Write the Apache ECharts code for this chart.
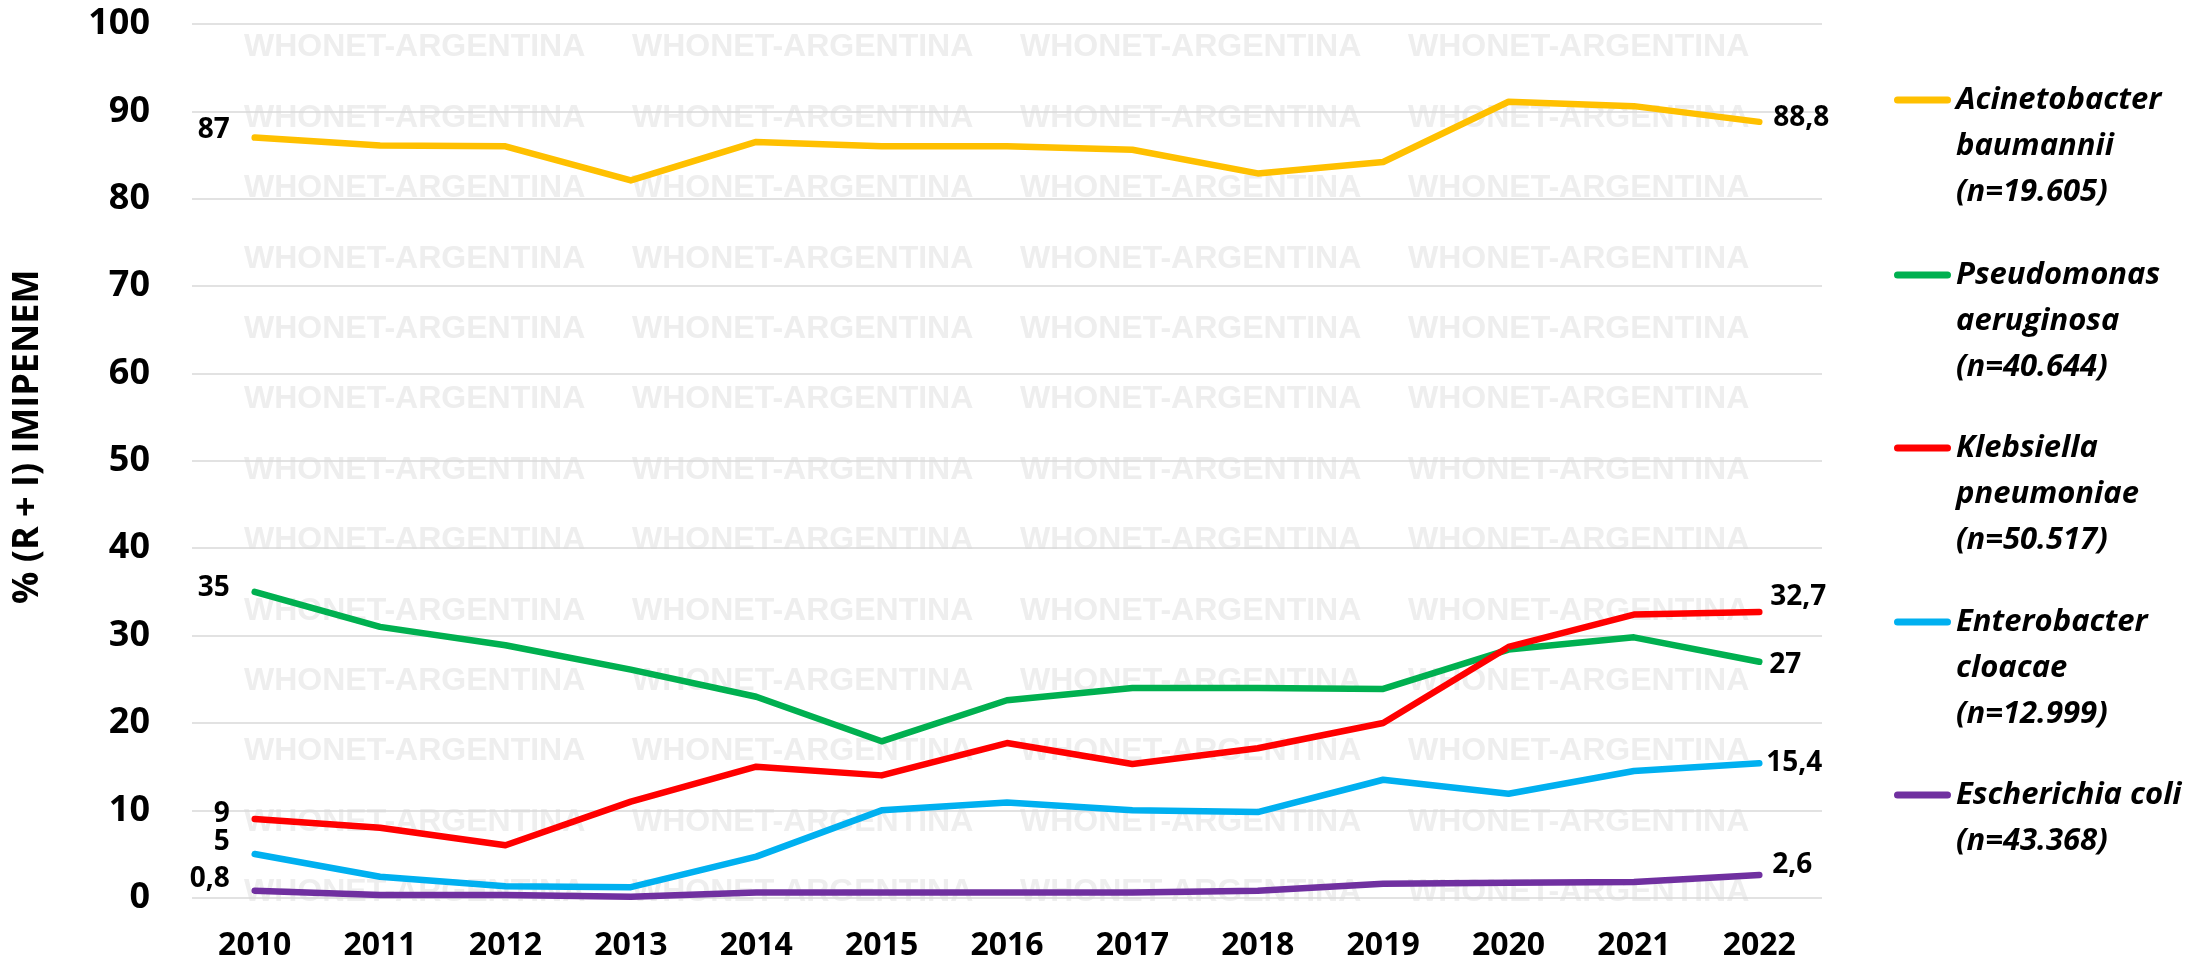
<!DOCTYPE html>
<html>
<head>
<meta charset="utf-8">
<title>% (R + I) IMIPENEM</title>
<script src="https://cdn.jsdelivr.net/npm/echarts@6/dist/echarts.min.js"></script>
<style>
  html, body { margin: 0; padding: 0; background: #fff; }
  #main { width: 2208px; height: 965px; }
</style>
</head>
<body>
<div id="main"></div>
<script>
  // datos
  var years = ['2010', '2011', '2012', '2013', '2014', '2015', '2016', '2017', '2018', '2019', '2020', '2021', '2022']
  var acinetobacter = [87, 86.1, 86, 82.1, 86.5, 86, 86, 85.6, 82.9, 84.2, 91.1, 90.6, 88.8]
  var pseudomonas = [35, 31, 28.9, 26.1, 23, 17.9, 22.6, 24, 24, 23.9, 28.4, 29.8, 27]
  var klebsiella = [9, 8, 6, 11, 15, 14, 17.7, 15.3, 17.1, 20, 28.7, 32.4, 32.7]
  var enterobacter = [5, 2.4, 1.3, 1.2, 4.7, 10, 10.9, 10, 9.8, 13.5, 11.9, 14.5, 15.4]
  var ecoli = [0.8, 0.3, 0.3, 0.1, 0.6, 0.6, 0.6, 0.6, 0.8, 1.6, 1.7, 1.8, 2.6]

  var names = [
    'Acinetobacter\nbaumannii\n(n=19.605)',
    'Pseudomonas\naeruginosa\n(n=40.644)',
    'Klebsiella\npneumoniae\n(n=50.517)',
    'Enterobacter\ncloacae\n(n=12.999)',
    'Escherichia coli\n(n=43.368)'
  ]
  var colors = ['#FFC000', '#00B050', '#FF0000', '#00B0F0', '#7030A0']
  var values = [acinetobacter, pseudomonas, klebsiella, enterobacter, ecoli]

  // ajustes de las etiquetas de los extremos: [desplaz. izq, distancia der, desplaz. der]
  var endLabels = [
    [-8, 13, -4],
    [-4, 9, 3],
    [-5, 10, -15],
    [-12, 6, 0],
    [-12, 12, -10]
  ]
  var legendY = [100, 275, 448, 622, 795]

  var font = '"Open Sans", "DejaVu Sans", sans-serif'

  function fmt(v) {
    return String(v).replace('.', ',')
  }

  var series = values.map(function (arr, i) {
    var last = arr.length - 1
    return {
      name: names[i],
      type: 'line',
      symbol: 'circle',
      symbolSize: 2,
      showSymbol: true,
      itemStyle: { color: colors[i] },
      color: colors[i],
      lineStyle: { width: 6.5, color: colors[i], cap: 'round', join: 'round' },
      z: 3,
      data: arr.map(function (v, j) {
        if (j === 0) {
          return { value: v, label: { show: true, position: 'left', distance: 24, offset: [0, endLabels[i][0]] } }
        }
        if (j === last) {
          return { value: v, label: { show: true, position: 'right', distance: endLabels[i][1], offset: [0, endLabels[i][2]] } }
        }
        return v
      }),
      label: {
        show: false,
        color: '#000',
        fontFamily: font,
        fontWeight: 'bold',
        fontSize: 28,
        formatter: function (p) {
          return fmt(p.value)
        }
      }
    }
  })

  // una leyenda por serie; líneas en blanco arriba para que la línea quede en la primera fila
  var legends = names.map(function (n, i) {
    var lines = n.split('\n').length
    var boxH = (2 * lines - 1) * 46
    return {
      data: [n],
      orient: 'vertical',
      left: 1894,
      top: legendY[i] - boxH / 2,
      padding: 0,
      itemWidth: 57,
      itemHeight: 7,
      itemGap: 5,
      icon: 'path://M3.5,0 L53.5,0 A3.5,3.5 0 0 1 53.5,7 L3.5,7 A3.5,3.5 0 0 1 3.5,0 Z',
      formatter: function (name) {
        return new Array(name.split('\n').length).join('\n') + name
      },
      textStyle: {
        color: '#000',
        fontFamily: font,
        fontWeight: 'bold',
        fontStyle: 'italic',
        fontSize: 31,
        lineHeight: 46
      }
    }
  })

  // marca de agua
  var watermark = []
  for (var r = 0; r < 13; r++) {
    for (var c = 0; c < 4; c++) {
      watermark.push({
        type: 'text',
        x: 244 + c * 388,
        y: 47.5 + r * 70.4,
        z: -10,
        silent: true,
        style: {
          text: 'WHONET-ARGENTINA',
          font: 'bold 32px "Liberation Sans", Arial, sans-serif',
          fill: '#EEEEEE',
          textVerticalAlign: 'middle'
        }
      })
    }
  }

  var myChart = echarts.init(document.getElementById('main'))
  var option = {
    backgroundColor: '#fff',
    animation: false,
    graphic: watermark,
    legend: legends,
    grid: { left: 192, right: 386, top: 24, bottom: 67.3 },
    xAxis: {
      type: 'category',
      data: years,
      boundaryGap: true,
      axisLine: { show: false },
      axisTick: { show: false },
      axisLabel: {
        color: '#000',
        fontFamily: font,
        fontWeight: 'bold',
        fontSize: 32,
        margin: 32
      }
    },
    yAxis: {
      type: 'value',
      min: 0,
      max: 100,
      interval: 10,
      name: '% (R + I) IMIPENEM',
      nameLocation: 'middle',
      nameGap: 146,
      nameTextStyle: {
        color: '#000',
        fontFamily: font,
        fontWeight: 'bold',
        fontSize: 36,
        padding: [0, 0, 0, 48]
      },
      axisLine: { show: false },
      axisTick: { show: false },
      axisLabel: {
        color: '#000',
        fontFamily: font,
        fontWeight: 'bold',
        fontSize: 36,
        margin: 42
      },
      splitLine: { lineStyle: { color: '#D9D9D9', width: 1.5 } }
    },
    series: series
  }
  myChart.setOption(option)
  window.addEventListener('resize', function () {
    myChart.resize()
  })
</script>
</body>
</html>
